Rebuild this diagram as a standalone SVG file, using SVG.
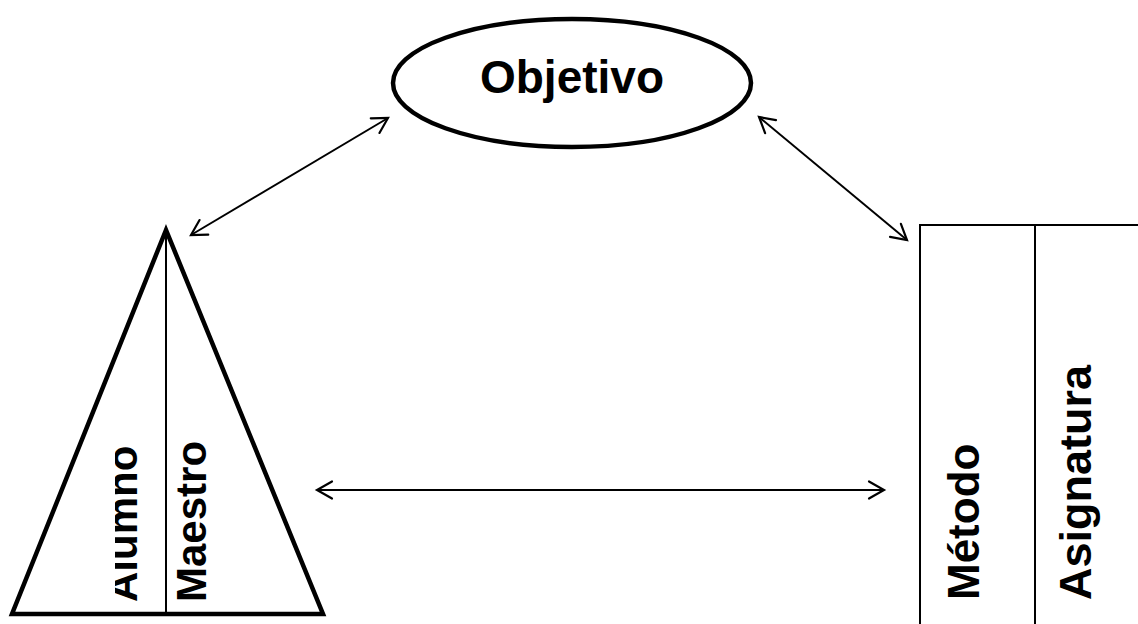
<svg xmlns="http://www.w3.org/2000/svg" width="1138" height="624" viewBox="0 0 1138 624">
  <style>
    .lbl { font-family: "Liberation Sans", Arial, sans-serif; font-weight: bold; fill: #000; }
    .thick { fill: none; stroke: #000; stroke-width: 4.5; stroke-linejoin: miter; }
    .thin { fill: none; stroke: #000; stroke-width: 2; }
    .conn { fill: none; stroke: #000; stroke-width: 2; marker-start: url(#arr); marker-end: url(#arr); }
  </style>
  <defs>
    <marker id="arr" markerUnits="userSpaceOnUse" markerWidth="30" markerHeight="30" refX="0" refY="0" viewBox="-20 -15 30 30" orient="auto-start-reverse" overflow="visible">
      <path d="M-15,-8.5 L0,0 L-15,8.5" fill="none" stroke="#000" stroke-width="2.2" stroke-linecap="round" stroke-linejoin="miter"/>
    </marker>
    <clipPath id="clipAlumno">
      <rect x="115" y="400" width="60" height="220"/>
    </clipPath>
  </defs>
  <rect width="1138" height="624" fill="#fff"/>

  <g id="connectors">
    <line class="conn" x1="191" y1="235" x2="388" y2="118"/>
    <line class="conn" x1="759" y1="117" x2="907" y2="240"/>
    <line class="conn" x1="317" y1="490" x2="884" y2="490"/>
  </g>

  <g id="objetivo">
    <ellipse class="thick" cx="572" cy="83" rx="179" ry="64"/>
    <text class="lbl" x="572" y="93" font-size="46" text-anchor="middle">Objetivo</text>
  </g>

  <g id="triangulo">
    <polygon class="thick" points="166,230 12,614 323,614" stroke-width="5"/>
    <line class="thin" x1="166" y1="232" x2="166" y2="613"/>
    <g clip-path="url(#clipAlumno)">
      <text class="lbl" font-size="42" transform="translate(137,602) rotate(-90)">Alumno</text>
    </g>
    <text class="lbl" font-size="42" transform="translate(206,602) rotate(-90)">Maestro</text>
  </g>

  <g id="tabla">
    <path class="thin" stroke-width="2.5" d="M920,630 V225 H1142"/>
    <line class="thin" stroke-width="2.5" x1="1035" y1="225" x2="1035" y2="630"/>
    <text class="lbl" font-size="44" transform="translate(979,600) rotate(-90)">Método</text>
    <text class="lbl" font-size="45" transform="translate(1091,600) rotate(-90)">Asignatura</text>
  </g>
</svg>
